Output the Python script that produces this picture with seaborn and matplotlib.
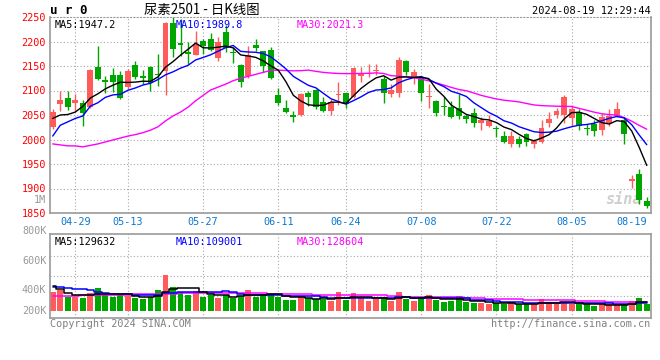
import numpy as np
import pandas as pd
import matplotlib
matplotlib.use("Agg")
import matplotlib.pyplot as plt
import seaborn as sns

# ---------------- data ----------------
holidays = ["2024-05-01", "2024-05-02", "2024-05-03", "2024-06-10"]
all_days = pd.bdate_range("2024-04-24", "2024-08-19")
trade_days = all_days[~all_days.isin(pd.to_datetime(holidays))]
dates = [d.strftime("%m-%d") for d in trade_days]

tick_labels = ["04-29", "05-13", "05-27", "06-11", "06-24",
               "07-08", "07-22", "08-05", "08-19"]

opens = [2025, 2073, 2084, 2075, 2075, 2066, 2148, 2121, 2131, 2131,
         2108, 2152, 2130, 2147, 2134, 2139, 2238, 2197, 2178, 2173,
         2202, 2205, 2166, 2219, 2179, 2153, 2129, 2193, 2180, 2183,
         2090, 2065, 2049, 2049, 2094, 2101, 2077, 2058, 2090, 2094,
         2087, 2130, 2133, 2140, 2124, 2092, 2095, 2161, 2125, 2127,
         2087, 2079, 2067, 2066, 2065, 2048, 2055, 2033, 2028, 2023,
         2007, 1991, 2000, 2012, 1991, 1995, 2033, 2049, 2049, 2043,
         2057, 2024, 2031, 2019, 2034, 2048, 2039, 1916, 1930, 1875]
highs = [2063, 2098, 2098, 2093, 2081, 2144, 2191, 2130, 2145, 2140,
         2144, 2161, 2142, 2150, 2175, 2240, 2250, 2246, 2198, 2222,
         2206, 2217, 2209, 2234, 2188, 2155, 2190, 2205, 2181, 2188,
         2105, 2080, 2058, 2094, 2100, 2103, 2087, 2082, 2118, 2095,
         2147, 2148, 2154, 2154, 2129, 2113, 2169, 2163, 2144, 2130,
         2114, 2080, 2086, 2078, 2092, 2053, 2065, 2045, 2051, 2028,
         2017, 2017, 2007, 2014, 2002, 2039, 2056, 2065, 2091, 2071,
         2062, 2032, 2039, 2055, 2062, 2077, 2045, 1928, 1939, 1882]
lows = [2021, 2058, 2060, 2058, 2027, 2064, 2121, 2095, 2097, 2082,
        2104, 2123, 2113, 2100, 2110, 2090, 2168, 2170, 2155, 2173,
        2174, 2181, 2161, 2178, 2157, 2107, 2125, 2180, 2138, 2123,
        2070, 2054, 2035, 2048, 2069, 2063, 2057, 2051, 2071, 2065,
        2085, 2118, 2127, 2131, 2075, 2087, 2087, 2132, 2113, 2078,
        2065, 2048, 2050, 2044, 2041, 2034, 2026, 2019, 2026, 2005,
        1993, 1985, 1985, 1987, 1983, 1993, 2025, 2043, 2034, 2028,
        2020, 2010, 2007, 2010, 2028, 2045, 1990, 1901, 1869, 1860]
closes = [2057, 2081, 2066, 2080, 2054, 2142, 2124, 2117, 2117, 2085,
          2139, 2128, 2126, 2115, 2131, 2238, 2185, 2192, 2175, 2194,
          2190, 2183, 2200, 2186, 2176, 2118, 2172, 2186, 2150, 2125,
          2074, 2056, 2046, 2092, 2086, 2067, 2059, 2077, 2092, 2073,
          2146, 2133, 2135, 2142, 2095, 2101, 2163, 2138, 2137, 2095,
          2089, 2055, 2066, 2046, 2048, 2041, 2034, 2039, 2038, 2021,
          1995, 2008, 1991, 1995, 1997, 2024, 2042, 2059, 2087, 2062,
          2028, 2021, 2017, 2045, 2047, 2062, 2012, 1920, 1877, 1864]
volumes = [290, 315, 215, 215, 200, 265, 350, 240, 215, 240,
           225, 200, 180, 215, 315, 540, 365, 290, 240, 300,
           215, 240, 200, 240, 190, 225, 315, 215, 255, 255,
           215, 165, 165, 225, 200, 180, 180, 150, 290, 165,
           265, 200, 150, 180, 215, 150, 290, 180, 150, 215,
           240, 165, 140, 150, 225, 140, 115, 125, 105, 115,
           105, 130, 105, 105, 105, 180, 140, 105, 140, 105,
           110, 100, 75, 100, 100, 90, 105, 150, 200, 105]

# moving-average values before enough history exists
ma5_head = [2043, 2050, 2051, 2056]
ma10_head = [2007, 2029, 2036, 2043, 2048, 2068, 2075, 2086, 2091]
ma30_head = [1991, 1989, 1987, 1987, 1985, 1988, 1991, 1995, 1999, 2003,
             2007, 2010, 2014, 2019, 2026, 2038, 2048, 2056, 2066, 2079,
             2090, 2101, 2107, 2113, 2120, 2125, 2129, 2133, 2137]
vma5_head = [380, 330, 265, 240]
vma10_head = [365, 355, 340, 330, 330, 315, 290, 265, 250]
vma30_head = [230, 230, 230, 230, 240, 240, 240, 240, 240, 240,
              240, 260, 260, 260, 260, 260, 260, 265, 265, 265,
              265, 265, 265, 265, 265, 265, 265, 265, 265]

price_ticks = [1850, 1900, 1950, 2000, 2050, 2100, 2150, 2200, 2250]
vol_labels = ["1M", "800K", "600K", "400K", "200K"]

# ---------------- derived ----------------
def moving(values, n, head):
    s = pd.Series(values, dtype=float).rolling(n).mean()
    s.iloc[:len(head)] = head
    return s.values

x = np.arange(len(closes))
o = np.array(opens, float); c = np.array(closes, float)
h = np.array(highs, float); l = np.array(lows, float)
v = np.array(volumes, float)
up = c >= o
RED, GREEN = "#FF5B5B", "#00A600"
cols = np.where(up, RED, GREEN)

ma5 = moving(closes, 5, ma5_head)
ma10 = moving(closes, 10, ma10_head)
ma30 = moving(closes, 30, ma30_head)
vma5 = moving(volumes, 5, vma5_head)
vma10 = moving(volumes, 10, vma10_head)
vma30 = moving(volumes, 30, vma30_head)

# ---------------- style ----------------
sns.set_style("white")
plt.rcParams["font.family"] = ["DejaVu Sans Mono", "Noto Sans CJK SC"]
W, H = 660, 360
fig = plt.figure(figsize=(6.6, 3.6), dpi=100)
fig.patch.set_facecolor("white")

def fx(px):
    return px / W

def fy(py):
    return 1 - py / H

ax = fig.add_axes([fx(50), fy(213), fx(651) - fx(50), fy(17) - fy(213)])
axv = fig.add_axes([fx(50), fy(318), fx(651) - fx(50), fy(234) - fy(318)])

GRID = "#A8A8A8"
BORDER = "#9A9A9A"
dotted = (0, (1, 2))
xlim = (-0.36, len(closes) - 0.44)

tick_pos = [dates.index(t) for t in tick_labels]

# ---------------- price panel ----------------
ax.set_xlim(*xlim)
ax.set_ylim(price_ticks[0], price_ticks[-1])
for p in price_ticks[1:-1]:
    ax.axhline(p, color=GRID, lw=0.8, ls=dotted, zorder=0)
for tp in tick_pos[:-1]:
    ax.axvline(tp, color=GRID, lw=0.8, ls=dotted, zorder=0)

ax.vlines(x, l, h, colors=cols, lw=1.0, zorder=2)
body = np.maximum(np.abs(c - o), 2.0)
ax.bar(x, body, bottom=np.minimum(o, c), width=0.78, color=cols,
       linewidth=0, zorder=3)

ma_df = pd.DataFrame({"x": x, "ma5": ma5, "ma10": ma10, "ma30": ma30})
sns.lineplot(data=ma_df, x="x", y="ma30", ax=ax, color="#FF00FF", lw=1.0, zorder=4)
sns.lineplot(data=ma_df, x="x", y="ma10", ax=ax, color="#0000FF", lw=1.0, zorder=5)
sns.lineplot(data=ma_df, x="x", y="ma5", ax=ax, color="black", lw=1.0, zorder=6)

ax.set_xlabel(""); ax.set_ylabel("")
ax.set_yticks(price_ticks)
ax.set_yticklabels([str(p) for p in price_ticks], color="#FF0000", fontsize=7.3)
ax.set_xticks(tick_pos)
ax.set_xticklabels(tick_labels, color="#0A78D2", fontsize=7.3)
ax.tick_params(axis="both", length=0, pad=3)
xtl = ax.get_xticklabels()
xtl[-1].set_horizontalalignment("right")
for name, sp in ax.spines.items():
    sp.set_color(BORDER)
    sp.set_linewidth(1.2)
ax.spines["top"].set_linestyle(dotted)
ax.spines["top"].set_linewidth(0.8)

ax.text(0.008, 0.985, "MA5:1947.2", transform=ax.transAxes, color="black",
        fontsize=7.3, va="top", ha="left")
ax.text((176 - 50) / 601, 0.985, "MA10:1989.8", transform=ax.transAxes,
        color="#0000FF", fontsize=7.3, va="top", ha="left")
ax.text((297 - 50) / 601, 0.985, "MA30:2021.3", transform=ax.transAxes,
        color="#FF00FF", fontsize=7.3, va="top", ha="left")
ax.text(0.955, 0.07, "sina", transform=ax.transAxes, color="#CFCFCF",
        fontsize=11, fontweight="bold", style="italic", ha="center",
        va="center", zorder=1)

# ---------------- volume panel ----------------
axv.set_xlim(*xlim)
axv.set_ylim(-105, 1155)
for g in (830, 530, 230):
    axv.axhline(g, color=GRID, lw=0.8, ls=dotted, zorder=0)
for tp in tick_pos[:-1]:
    axv.axvline(tp, color=GRID, lw=0.8, ls=dotted, zorder=0)
axv.bar(x, v, width=0.78, color=cols, linewidth=0, zorder=2)
vdf = pd.DataFrame({"x": x, "v5": vma5, "v10": vma10, "v30": vma30})
sns.lineplot(data=vdf, x="x", y="v30", ax=axv, color="#FF00FF", lw=1.1,
             drawstyle="steps-mid", zorder=3)
sns.lineplot(data=vdf, x="x", y="v10", ax=axv, color="#0000FF", lw=1.1,
             drawstyle="steps-mid", zorder=4)
sns.lineplot(data=vdf, x="x", y="v5", ax=axv, color="black", lw=1.1,
             drawstyle="steps-mid", zorder=5)
axv.set_xlabel(""); axv.set_ylabel("")
axv.set_xticks([]); axv.set_yticks([])
for sp in axv.spines.values():
    sp.set_color(BORDER)
    sp.set_linewidth(1.2)
axv.text(0.008, 0.97, "MA5:129632", transform=axv.transAxes, color="black",
         fontsize=7.3, va="top", ha="left")
axv.text((176 - 50) / 601, 0.97, "MA10:109001", transform=axv.transAxes,
         color="#0000FF", fontsize=7.3, va="top", ha="left")
axv.text((297 - 50) / 601, 0.97, "MA30:128604", transform=axv.transAxes,
         color="#FF00FF", fontsize=7.3, va="top", ha="left")

# volume axis labels (positioned as in the reference)
for lab, py in zip(vol_labels, [200, 231, 261, 290, 311]):
    fig.text(fx(46.5), fy(py), lab, color="#999999", fontsize=7.3,
             ha="right", va="center")

# ---------------- header / footer ----------------
fig.text(fx(50), fy(10), "u r 0", fontsize=9, fontweight="bold",
         color="black", ha="left", va="center")
fig.text(fx(202), fy(10), "尿素2501 - 日K线图", fontsize=9.6,
         family=["Noto Sans CJK SC", "DejaVu Sans"], color="black",
         ha="center", va="center")
fig.text(fx(651), fy(11), "2024-08-19 12:29:44", fontsize=7.5,
         color="black", ha="right", va="center")
fig.text(fx(50), fy(324), "Copyright 2024 SINA.COM", fontsize=7.3,
         color="#808080", ha="left", va="center")
fig.text(fx(650), fy(324), "http://finance.sina.com.cn", fontsize=7.3,
         color="#808080", ha="right", va="center")

fig.savefig("out.png", dpi=100)
